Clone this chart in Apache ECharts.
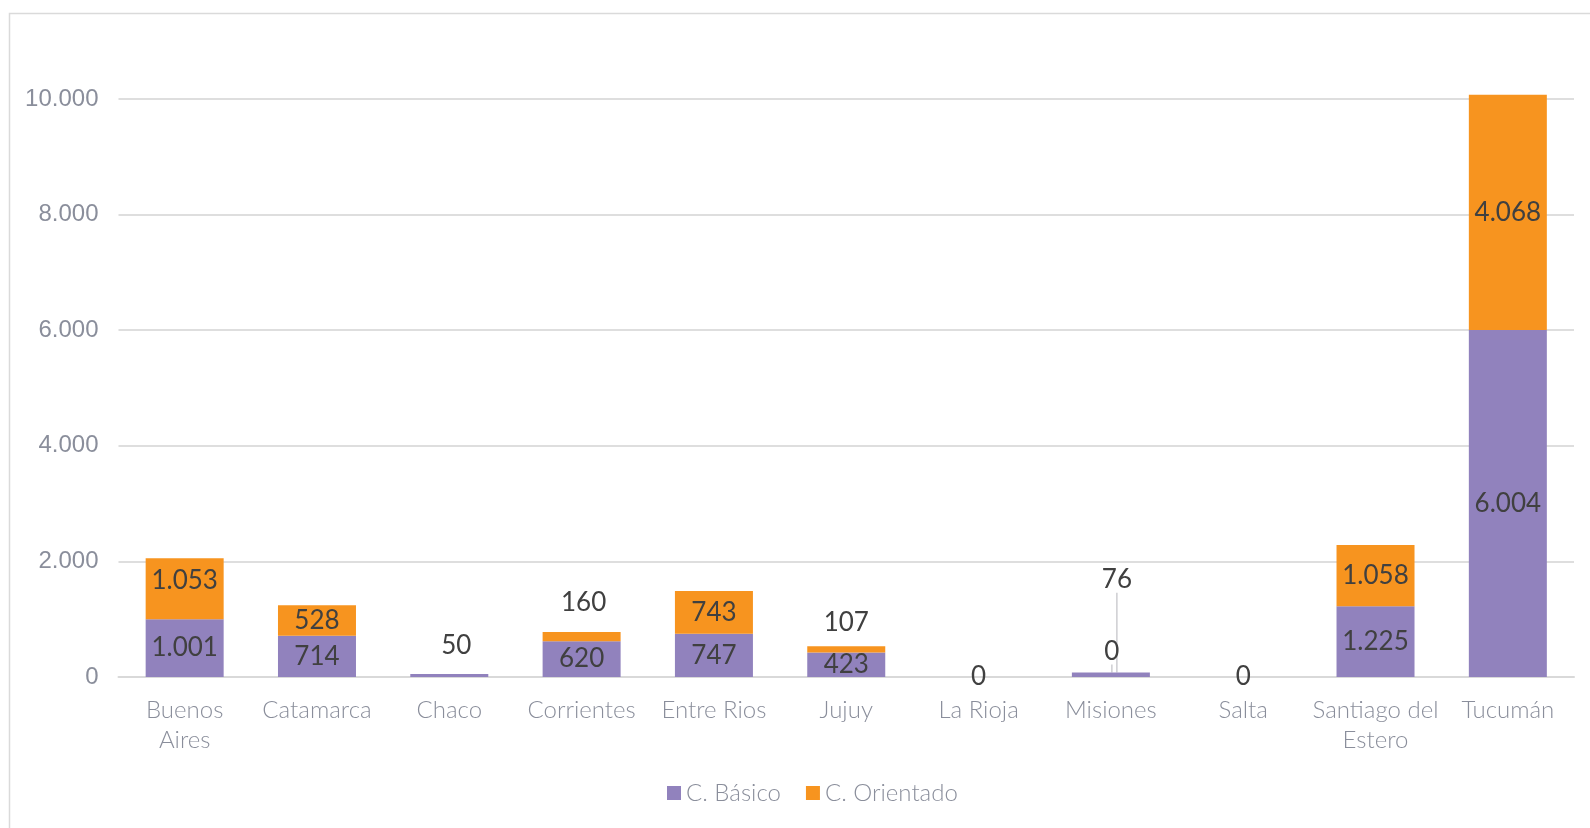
<!DOCTYPE html>
<html>
<head>
<meta charset="utf-8">
<script src="https://cdn.jsdelivr.net/npm/echarts@6/dist/echarts.min.js"></script>
<style>
  html, body { margin: 0; padding: 0; background: #ffffff; }
  #chart { width: 1590px; height: 828px; }
</style>
</head>
<body>
<div id="chart"></div>
<script>
// Provinces and enrolment per cycle
const categories = ['Buenos Aires', 'Catamarca', 'Chaco', 'Corrientes', 'Entre Rios', 'Jujuy',
  'La Rioja', 'Misiones', 'Salta', 'Santiago del Estero', 'Tucumán'];
const tickLabels = ['Buenos\nAires', 'Catamarca', 'Chaco', 'Corrientes', 'Entre Rios', 'Jujuy',
  'La Rioja', 'Misiones', 'Salta', 'Santiago del\nEstero', 'Tucumán'];
const basico = [1001, 714, 50, 620, 747, 423, 0, 76, 0, 1225, 6004];
const orientado = [1053, 528, null, 160, 743, 107, null, 0, null, 1058, 4068];
const seriesNames = ['C. Básico', 'C. Orientado'];
const yTicks = [0, 2000, 4000, 6000, 8000, 10000];

const FONT = 'Lato';
const LABEL_COLOR = '#404040';
const MUTED = '#8a8e9b';

function fmt(v) {
  return String(Math.round(v)).replace(/\B(?=(\d{3})+(?!\d))/g, '.');
}

// labels drawn above short segments: category -> distance
const aboveBasico = { 'Chaco': 16 };
const aboveOrientado = { 'Corrientes': 16, 'Jujuy': 11 };
// label shifts: category -> [dx, dy, leader line]
const shiftBasico = { 'Chaco': [7, 0, false], 'Misiones': [6, -95, true] };
const shiftOrientado = { 'Buenos Aires': [0, -8, false], 'Corrientes': [2, 0, false], 'Misiones': [1, -21, true] };

function buildData(values, above, shift) {
  return values.map((v, i) => {
    const cat = categories[i];
    const item = { value: v };
    if (above[cat] !== undefined) {
      item.label = { position: 'top', distance: above[cat] };
    }
    if (shift[cat] && shift[cat][2]) {
      item.labelLine = { show: true, lineStyle: { color: '#c6c6ca', width: 1.3 } };
    }
    return item;
  });
}

function layoutFor(shift) {
  return function (params) {
    const s = shift[categories[params.dataIndex]];
    return s ? { dx: s[0], dy: s[1] } : {};
  };
}

const chart = echarts.init(document.getElementById('chart'), null, { renderer: 'canvas' });

const baseLabel = {
  show: true,
  position: 'inside',
  color: LABEL_COLOR,
  fontFamily: FONT,
  fontSize: 26,
  textBorderWidth: 0,
  formatter: p => (p.value === null || p.value === undefined) ? '' : fmt(p.value)
};

chart.setOption({
  animation: false,
  backgroundColor: '#ffffff',
  graphic: [{
    type: 'rect',
    left: 7, top: 11,
    shape: { width: 1620, height: 840 },
    style: { fill: 'none', stroke: '#dadada', lineWidth: 1.5 },
    silent: true, z: -10
  }],
  grid: { left: 118.5, right: 16, top: 99, bottom: 151, containLabel: false },
  legend: {
    data: seriesNames,
    left: 662,
    top: 776,
    icon: 'rect',
    itemWidth: 14,
    itemHeight: 14,
    itemGap: 25,
    textStyle: { color: MUTED, fontFamily: FONT, fontWeight: 300, fontSize: 24 }
  },
  xAxis: {
    type: 'category',
    data: categories,
    axisLine: { show: true, lineStyle: { color: '#d9d9d9', width: 2 } },
    axisTick: { show: false },
    axisLabel: {
      color: MUTED,
      fontFamily: FONT,
      fontWeight: 300,
      fontSize: 24,
      lineHeight: 30,
      margin: 18,
      interval: 0,
      formatter: (v, i) => tickLabels[i]
    }
  },
  yAxis: {
    type: 'value',
    min: yTicks[0],
    max: yTicks[yTicks.length - 1],
    interval: yTicks[1] - yTicks[0],
    axisLine: { show: false },
    axisTick: { show: false },
    splitLine: { lineStyle: { color: '#dedede', width: 2 } },
    axisLabel: {
      color: MUTED,
      fontFamily: 'Liberation Sans',
      fontSize: 24,
      margin: 20,
      formatter: v => fmt(v)
    }
  },
  series: [
    {
      name: seriesNames[0],
      type: 'bar',
      stack: 'total',
      barWidth: 78,
      clip: false,
      itemStyle: { color: '#9182bd' },
      label: baseLabel,
      labelLayout: layoutFor(shiftBasico),
      data: buildData(basico, aboveBasico, shiftBasico)
    },
    {
      name: seriesNames[1],
      type: 'bar',
      stack: 'total',
      barWidth: 78,
      clip: false,
      itemStyle: { color: '#f7941f' },
      label: baseLabel,
      labelLayout: layoutFor(shiftOrientado),
      data: buildData(orientado, aboveOrientado, shiftOrientado)
    }
  ]
});
</script>
</body>
</html>
